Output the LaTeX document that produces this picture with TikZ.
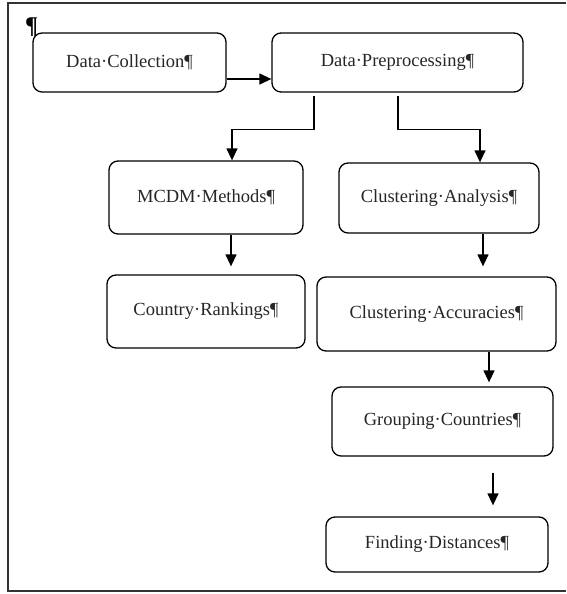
\documentclass[tikz,border=0pt]{standalone}
\usepackage{fontspec}
\setmainfont{Liberation Serif}
\usetikzlibrary{arrows.meta}
\begin{document}
\begin{tikzpicture}[x=1pt,y=-1pt,
  box/.style={draw,line width=1.3pt,rounded corners=9pt,inner sep=0pt,font=\fontsize{18.5}{22}\selectfont,text=black!85},
  arr/.style={line width=1.3pt,-{Triangle[length=12pt,width=11pt]}},
  frame/.style={line width=1.6pt,black!80}]
\useasboundingbox (0,0) rectangle (566,594);
\draw[frame] (566,3) -- (8,3) -- (8,591) -- (566,591);
\node[box,minimum width=193pt,minimum height=59pt] (dc) at (129.5,62.5) {Data·Collection¶};
\node[anchor=north west,inner sep=0pt,font=\bfseries\fontsize{24}{26}\selectfont] (pil) at (25,18) {¶};
\node[box,minimum width=251pt,minimum height=59pt] (dp) at (397.5,62.5) {Data·Preprocessing¶};
\node[box,minimum width=194pt,minimum height=73pt] (mcdm) at (206,197.5) {MCDM·Methods¶};
\node[box,minimum width=198pt,minimum height=73pt] (cr) at (206,311.5) {Country·Rankings¶};
\node[box,minimum width=200pt,minimum height=70pt] (ca) at (439,198) {Clustering·Analysis¶};
\node[box,minimum width=239pt,minimum height=74pt] (cacc) at (436.5,314) {Clustering·Accuracies¶};
\node[box,minimum width=221pt,minimum height=69pt] (gc) at (442.5,421.5) {Grouping·Countries¶};
\node[box,minimum width=222pt,minimum height=55pt] (fd) at (437,544.5) {Finding·Distances¶};
\draw[arr] ([yshift=-16.5pt]dc.east) -- ([yshift=-16.5pt]dp.west);
\draw[arr] ([xshift=-83.5pt,yshift=-3pt]dp.south) -- ++(0,34) -| ([xshift=26pt]mcdm.north);
\draw[arr] ([xshift=0.5pt,yshift=-3pt]dp.south) -- ++(0,34) -| ([xshift=41pt]ca.north);
\draw[arr] ([xshift=25pt]mcdm.south) -- ([xshift=25pt,yshift=8pt]cr.north);
\draw[arr] ([xshift=44pt]ca.south) -- ([xshift=46.5pt,yshift=10pt]cacc.north);
\draw[arr] ([xshift=52.5pt]cacc.south) -- ([xshift=46.5pt,yshift=4pt]gc.north);
\draw[arr] ([xshift=50.5pt,yshift=-16pt]gc.south) -- ([xshift=56pt,yshift=11pt]fd.north);
\end{tikzpicture}
\end{document}
